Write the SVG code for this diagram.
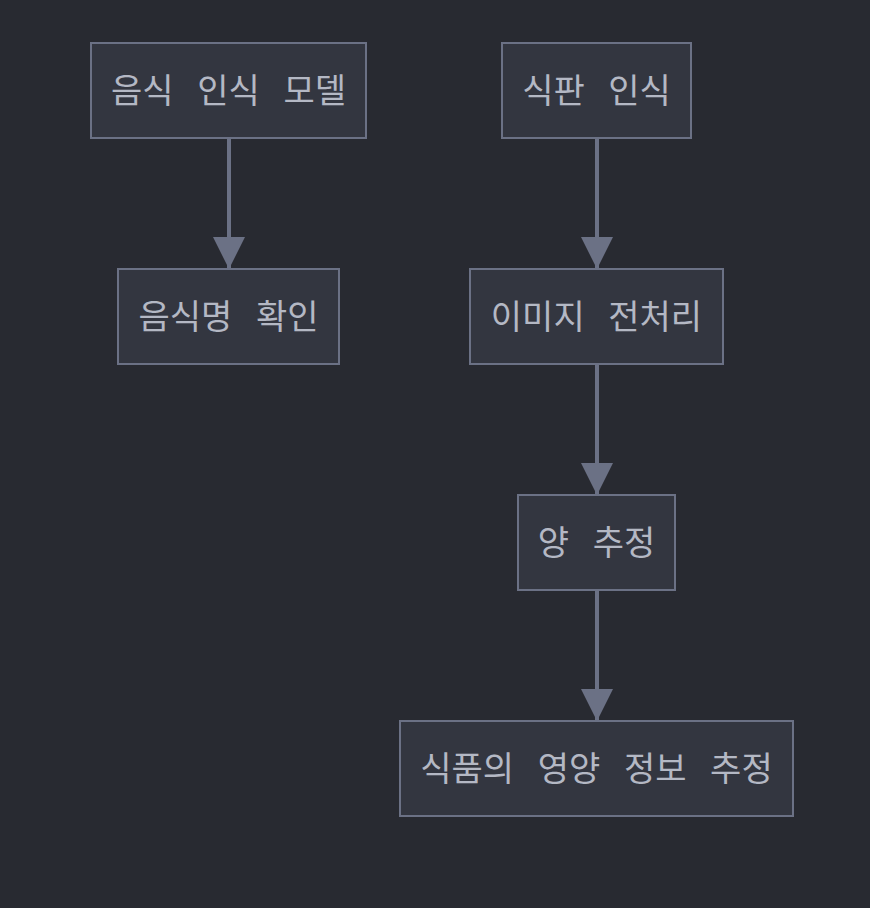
<svg xmlns="http://www.w3.org/2000/svg" width="870" height="908" viewBox="0 0 870 908">
<defs>
<style>
.n rect{fill:#333640;stroke:#6b7185;stroke-width:2}
.n text{fill:#b4b8c4;font-family:"Noto Sans CJK KR","Noto Sans",sans-serif;font-size:34px;text-anchor:middle;dominant-baseline:central;word-spacing:16px}
.e line{stroke:#6b7185;stroke-width:4}
</style>
<marker id="ah" viewBox="0 0 32 32" refX="32" refY="16" markerWidth="32" markerHeight="32" markerUnits="userSpaceOnUse" orient="auto">
<path d="M0,0 L32,16 L0,32 z" fill="#6b7185"/>
</marker>
</defs>
<rect width="870" height="908" fill="#282a31"/>
<g id="edges" class="e">
<line x1="229" y1="138" x2="229" y2="269" marker-end="url(#ah)"/>
<line x1="597" y1="138" x2="597" y2="269" marker-end="url(#ah)"/>
<line x1="597" y1="364" x2="597" y2="495" marker-end="url(#ah)"/>
<line x1="597" y1="590" x2="597" y2="721" marker-end="url(#ah)"/>
</g>
<g id="n1" class="n"><rect x="91" y="43" width="275" height="95"/><text x="228.5" y="88.5">음식 인식 모델</text></g>
<g id="n2" class="n"><rect x="118" y="269" width="221" height="95"/><text x="228.5" y="314.5">음식명 확인</text></g>
<g id="n3" class="n"><rect x="502" y="43" width="189" height="95"/><text x="596.5" y="88.5">식판 인식</text></g>
<g id="n4" class="n"><rect x="470" y="269" width="253" height="95"/><text x="596.5" y="314.5">이미지 전처리</text></g>
<g id="n5" class="n"><rect x="518" y="495" width="157" height="95"/><text x="596.5" y="540.5">양 추정</text></g>
<g id="n6" class="n"><rect x="400" y="721" width="393" height="95"/><text x="596.5" y="766.5">식품의 영양 정보 추정</text></g>
</svg>
